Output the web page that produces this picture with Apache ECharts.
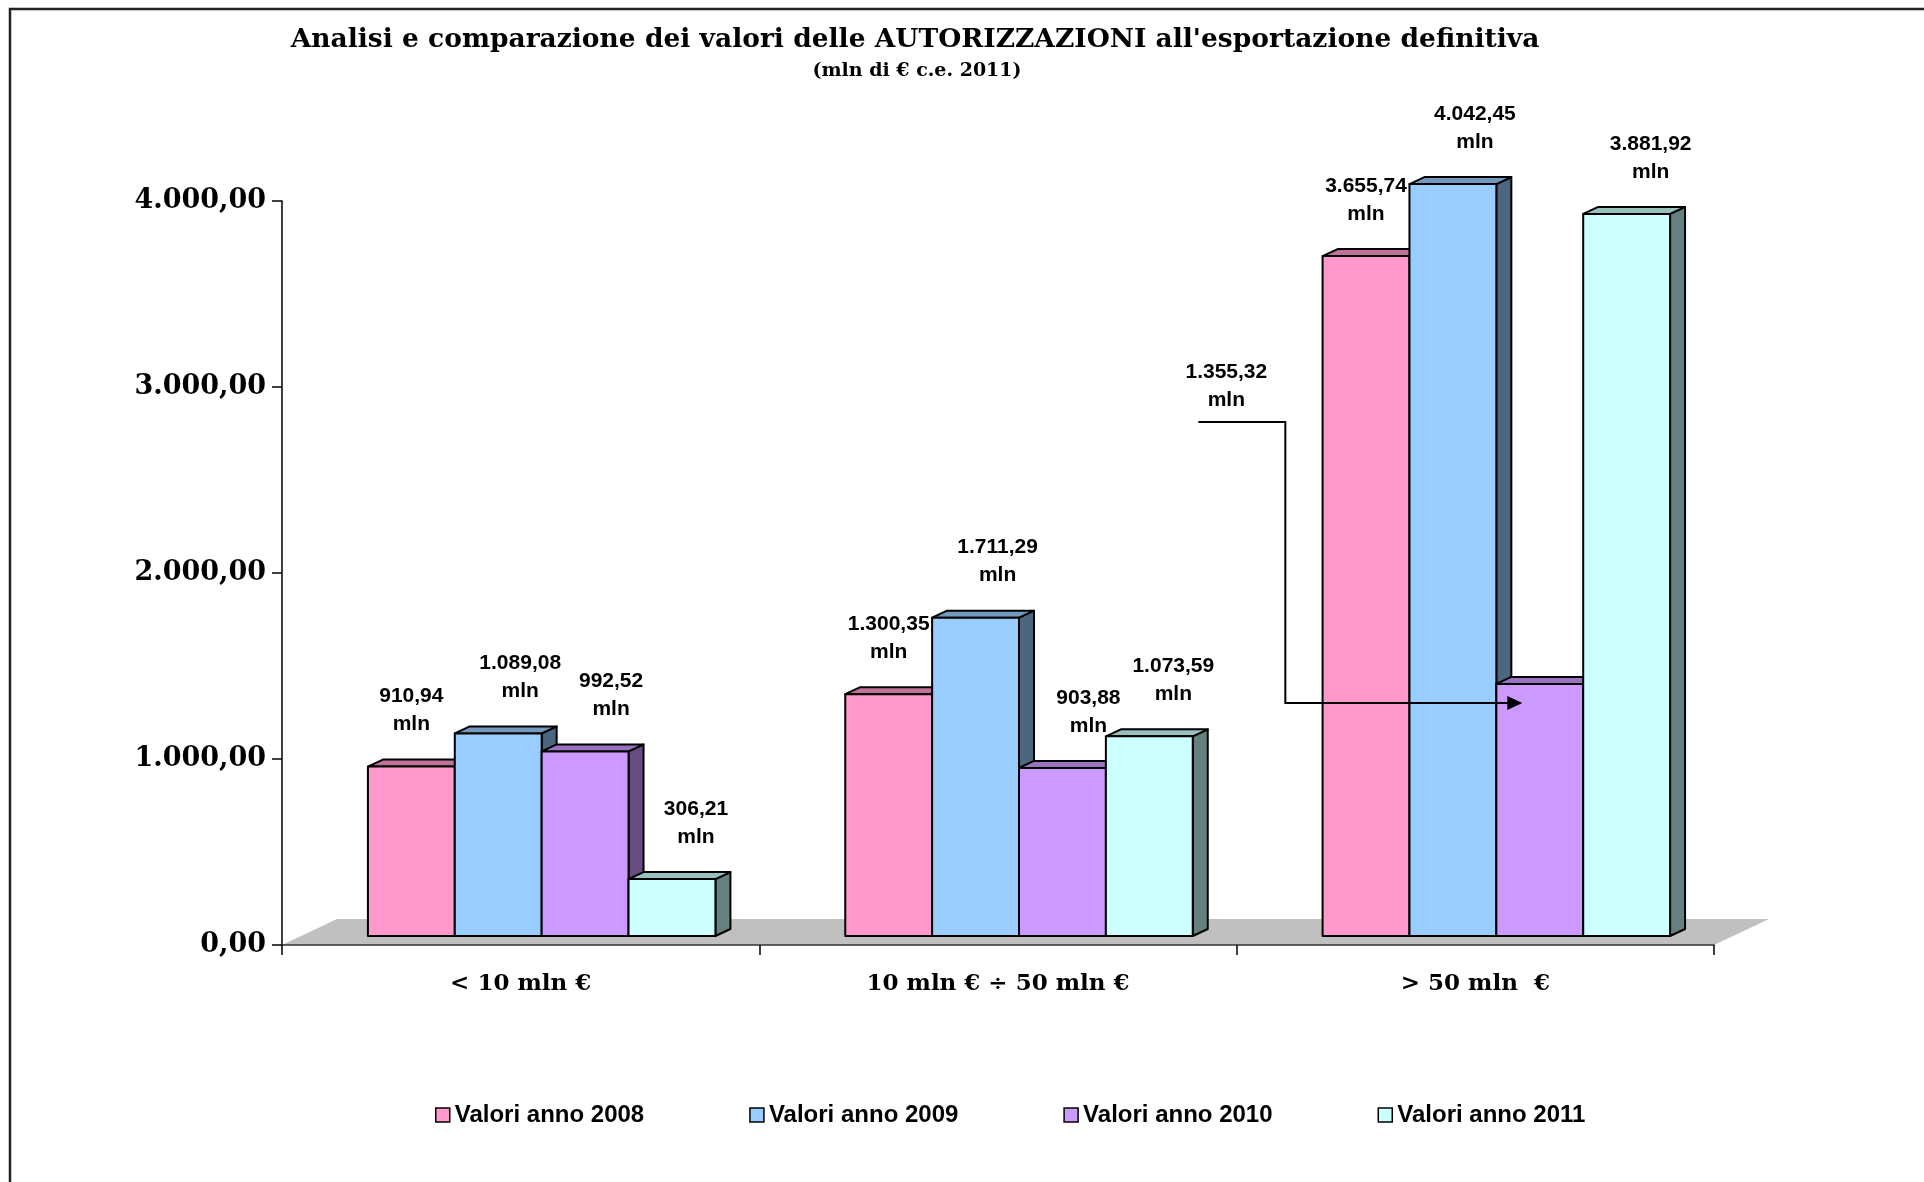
<!DOCTYPE html>
<html><head><meta charset="utf-8">
<script src="https://cdn.jsdelivr.net/npm/echarts@6/dist/echarts.min.js"></script>
<style>html,body{margin:0;padding:0;background:#fff}#c{width:1924px;height:1182px}</style>
</head><body><div id="c"></div>
<script>
// ---- data ----
const categories = ['< 10 mln €', '10 mln € ÷ 50 mln €', '> 50 mln  €'];
const seriesNames = ['Valori anno 2008', 'Valori anno 2009', 'Valori anno 2010', 'Valori anno 2011'];
const values2008 = [910.94, 1300.35, 3655.74];
const values2009 = [1089.08, 1711.29, 4042.45];
const values2010 = [992.52, 903.88, 1355.32];
const values2011 = [306.21, 1073.59, 3881.92];
const yMin = 0, yMax = 4000, yStep = 1000;
const titleText = "Analisi e comparazione dei valori delle AUTORIZZAZIONI all'esportazione definitiva";
const subtitleText = '(mln di € c.e. 2011)';
const labelUnit = 'mln';
// the 2010 value of the third category is shown with a callout arrow
const callout = { series: 2, category: 2 };

// ---- styles ----
const frontColors = ['#FF99CC', '#99CCFF', '#CC99FF', '#CCFFFF'];
const topColors = ['#BF7399', '#7399BF', '#9973BF', '#99BFBF'];
const sideColors = ['#804C66', '#4D6680', '#664C80', '#668080'];
const labelShift = [0, 22, 26, 24];
const DX = 15, DY = 7, LIFT = 9, SHIFT = 21, BARFRAC = 0.182;
const FLOOR_DX = 55, FLOOR_DY = 26;

function fmtIt(v, dec) {
  const s = v.toFixed(dec);
  const parts = s.split('.');
  const ii = parts[0].replace(/\B(?=(\d{3})+(?!\d))/g, '.');
  return parts[1] ? ii + ',' + parts[1] : ii;
}

const allValues = [values2008, values2009, values2010, values2011];

function renderFloor(params, api) {
  const c0 = api.coord([0, 0]);
  const bw = api.size([1, 0])[0];
  const left = c0[0] - bw / 2;
  const right = left + bw * categories.length;
  const y = c0[1];
  return {
    type: 'polygon', silent: true,
    shape: { points: [[left, y], [left + FLOOR_DX, y - FLOOR_DY], [right + FLOOR_DX, y - FLOOR_DY], [right, y]] },
    style: { fill: '#C0C0C0', stroke: null }
  };
}

function makeRender(s) {
  return function (params, api) {
    const cat = api.value(0), val = api.value(1);
    const bw = api.size([1, 0])[0];
    const w = bw * BARFRAC;
    const c = api.coord([cat, 0]);
    const t = api.coord([cat, val]);
    const x0 = c[0] - 2 * w + s * w + SHIFT;
    const x1 = x0 + w;
    const y0 = c[1] - LIFT;
    const y1 = t[1] - LIFT;
    const stroke = { stroke: '#000', lineWidth: 2, lineJoin: 'round' };
    const children = [
      { type: 'polygon', shape: { points: [[x1, y0], [x1 + DX, y0 - DY], [x1 + DX, y1 - DY], [x1, y1]] },
        style: Object.assign({ fill: sideColors[s] }, stroke) },
      { type: 'polygon', shape: { points: [[x0, y1], [x0 + DX, y1 - DY], [x1 + DX, y1 - DY], [x1, y1]] },
        style: Object.assign({ fill: topColors[s] }, stroke) },
      { type: 'rect', shape: { x: x0, y: y1, width: w, height: y0 - y1 },
        style: Object.assign({ fill: frontColors[s] }, stroke) }
    ];
    const txt = fmtIt(val, 2) + '\n' + labelUnit;
    const font = 'bold 21px "Liberation Sans", Arial, sans-serif';
    if (s === callout.series && cat === callout.category) {
      const tipX = x0 + 26, lineY = y1 + 19;
      const cornerX = x0 - 211, topY = y1 - 262, startX = x0 - 298;
      children.push({ type: 'polyline', z2: 50, shape: { points: [[startX, topY], [cornerX, topY], [cornerX, lineY], [tipX - 14, lineY]] },
        style: { stroke: '#000', lineWidth: 2, fill: null } });
      children.push({ type: 'polygon', z2: 50, shape: { points: [[tipX, lineY], [tipX - 15, lineY - 7], [tipX - 15, lineY + 7]] },
        style: { fill: '#000' } });
      children.push({ type: 'text', z2: 100, style: { text: txt, x: x0 - 270, y: topY - 8, align: 'center', verticalAlign: 'bottom',
        font: font, lineHeight: 28, fill: '#000' } });
    } else {
      children.push({ type: 'text', z2: 100, style: { text: txt, x: (x0 + x1) / 2 + labelShift[s], y: y1 - 28, align: 'center', verticalAlign: 'bottom',
        font: font, lineHeight: 28, fill: '#000' } });
    }
    return { type: 'group', children: children };
  };
}

const chart = echarts.init(document.getElementById('c'), null, { renderer: 'canvas' });

const series = [{
  type: 'custom', name: 'floor', renderItem: renderFloor, data: [[0, 0]], z: 1, silent: true
}];
allValues.forEach((vals, s) => {
  series.push({
    type: 'custom', name: seriesNames[s], z: 2,
    renderItem: makeRender(s),
    itemStyle: { color: frontColors[s] },
    encode: { x: 0, y: 1 },
    data: vals.map((v, i) => [i, v])
  });
});

chart.setOption({
  animation: false,
  backgroundColor: '#fff',
  title: [
    { text: titleText, left: 910, top: 22, textAlign: 'center',
      textStyle: { fontFamily: '"DejaVu Serif", serif', fontWeight: 'bold', fontSize: 26.5, color: '#000' } },
    { text: subtitleText, left: 912, top: 57, textAlign: 'center',
      textStyle: { fontFamily: '"DejaVu Serif", serif', fontWeight: 'bold', fontSize: 19, color: '#000' } }
  ],
  graphic: [{
    type: 'rect', silent: true, z: -1,
    shape: { x: 10, y: 9, width: 2400, height: 2400 },
    style: { fill: null, stroke: '#222', lineWidth: 2.5 }
  }],
  legend: {
    data: seriesNames,
    left: 430, top: 1098,
    icon: 'rect', itemWidth: 14, itemHeight: 14, itemGap: 105,
    itemStyle: { borderColor: '#000', borderWidth: 1.5 },
    textStyle: { fontFamily: '"Liberation Sans", Arial, sans-serif', fontWeight: 'bold', fontSize: 24, color: '#000' }
  },
  grid: { left: 282, right: 210, top: 201, bottom: 237, containLabel: false },
  xAxis: {
    type: 'category', data: categories, boundaryGap: true, z: 5,
    axisLine: { lineStyle: { color: '#333', width: 1.5 } },
    axisTick: { show: true, inside: false, length: 10, lineStyle: { color: '#000', width: 1.5 } },
    axisLabel: { margin: 28, fontFamily: '"DejaVu Serif", serif', fontWeight: 'bold', fontSize: 23, color: '#000' },
    splitLine: { show: false }
  },
  yAxis: {
    type: 'value', min: yMin, max: yMax, interval: yStep, z: 5,
    axisLine: { show: true, lineStyle: { color: '#000', width: 1.5 } },
    axisTick: { show: true, inside: false, length: 10, lineStyle: { color: '#000', width: 1.5 } },
    axisLabel: { margin: 16, formatter: v => fmtIt(v, 2), fontFamily: '"DejaVu Serif", serif', fontWeight: 'bold', fontSize: 27, color: '#000' },
    splitLine: { show: false }
  },
  series: series
});
</script>
</body></html>
